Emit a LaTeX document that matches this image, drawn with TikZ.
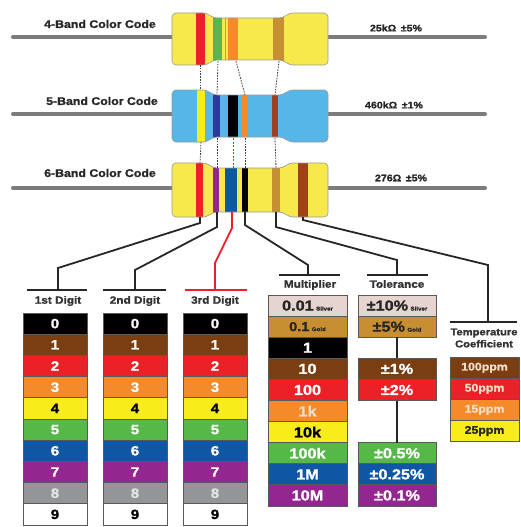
\documentclass[tikz,border=0pt]{standalone}
\usepackage{fontspec}
\setmainfont{Liberation Sans}
\newfontfamily\wide[FakeStretch=1.12, BoldFeatures={FakeBold=1.3}]{Liberation Sans}
\usetikzlibrary{calc}

\definecolor{rbrown}{HTML}{7A3E10}
\definecolor{rred}{HTML}{EC2027}
\definecolor{rorange}{HTML}{F58A2A}
\definecolor{ryellow}{HTML}{F8EC1A}
\definecolor{rgreen}{HTML}{56B848}
\definecolor{rblue}{HTML}{0F56A4}
\definecolor{rpurple}{HTML}{93278F}
\definecolor{rgray}{HTML}{939598}
\definecolor{rsilver}{HTML}{E6D4D1}
\definecolor{rgold}{HTML}{C88F32}
\definecolor{resyellow}{HTML}{F7E84B}
\definecolor{resblue}{HTML}{55B7E7}
\definecolor{banddarkblue}{HTML}{2A3A9E}
\definecolor{bandbrown}{HTML}{A3401C}
\definecolor{leadgray}{HTML}{7C7C7C}
\definecolor{paletext}{HTML}{F7DDC8}
\definecolor{eighttext}{HTML}{E2E2E2}

\newcommand\digitfont{\wide\bfseries\fontsize{13.5}{13.5}\selectfont}
\newcommand\bigfont{\wide\bfseries\fontsize{14.5}{14.5}\selectfont}
\newcommand\smallfont{\wide\bfseries\fontsize{5.5}{5.5}\selectfont}

% one resistor body: #1 top, #2 bottom, #3 body colour, #4 bands left/right/colour
\newcommand\drawres[4]{%
  \fill[#3, rounded corners=4pt] (172,#1) -- (207,#1) -- (213,#1+5) -- (283,#1+5) -- (289,#1) -- (328,#1) -- (328,#2) -- (289,#2) -- (283,#2-5) -- (213,#2-5) -- (207,#2) -- (172,#2) -- cycle;
  \begin{scope}
    \clip[rounded corners=4pt] (172,#1) -- (207,#1) -- (213,#1+5) -- (283,#1+5) -- (289,#1) -- (328,#1) -- (328,#2) -- (289,#2) -- (283,#2-5) -- (213,#2-5) -- (207,#2) -- (172,#2) -- cycle;
    \foreach \l/\r/\c in {#4} {\fill[\c] (\l,#1-2) rectangle (\r,#2+2);}
  \end{scope}
  \draw[body, rounded corners=4pt] (172,#1) -- (207,#1) -- (213,#1+5) -- (283,#1+5) -- (289,#1) -- (328,#1) -- (328,#2) -- (289,#2) -- (283,#2-5) -- (213,#2-5) -- (207,#2) -- (172,#2) -- cycle;
}

\tikzset{
  lead/.style={line width=4pt, draw=leadgray, line cap=round},
  body/.style={draw=black!40, line width=0.6pt},
  dots/.style={draw=black!75, line width=0.8pt, dash pattern=on 1.6pt off 1.2pt},
  reddots/.style={draw=rred, line width=1pt, dash pattern=on 2pt off 1.5pt},
  leader/.style={draw=black!85, line width=1.8pt},
  redleader/.style={draw=rred, line width=1.8pt},
  title/.style={font=\wide\bfseries\fontsize{11}{11}\selectfont, text=black!85},
  value/.style={font=\wide\bfseries\fontsize{9.5}{9.5}\selectfont, text=black!85},
  head/.style={font=\wide\bfseries\fontsize{10.5}{10.5}\selectfont, text=black!80, align=center},
  cell/.style={draw=black!65, line width=0.9pt, inner sep=0pt, outer sep=0pt,
    anchor=north west, minimum height=21.2pt},
}

\begin{document}
\begin{tikzpicture}[x=1pt,y=-1pt]
\useasboundingbox[fill=white] (0,0) rectangle (521,527);

% leads
\draw[lead] (13,37) -- (485,37);
\draw[lead] (13,114) -- (485,114);
\draw[lead] (13,188) -- (485,188);

% resistor bodies with their bands
\drawres{13}{65}{resyellow}{196/205/rred, 213/222/rgreen, 224.5/226/rorange, 228/238/rorange, 273/284/rgold}
\drawres{90}{142}{resblue}{197/205/ryellow, 213/220/banddarkblue, 228/238/black, 242/248/rorange, 272/278/bandbrown}
\drawres{163}{217}{resyellow}{196/203/rred, 213/219/rpurple, 225/237/rblue, 242/248/black, 272/280/rgold, 298/308/bandbrown}

% titles and values
\node[title] (t4band) at (100,24) {4-Band Color Code};
\node[title] (t5band) at (102,101) {5-Band Color Code};
\node[title] (t6band) at (100,173) {6-Band Color Code};
\node[value] (v4band) at (396,28) {25kΩ \,±5\%};
\node[value] (v5band) at (394,105) {460kΩ \,±1\%};
\node[value] (v6band) at (401,178) {276Ω \,±5\%};

% band end points
\coordinate (a1) at (200,65);  \coordinate (b1) at (218,61);
\coordinate (c1) at (236,61);  \coordinate (d1) at (279,61);
\coordinate (a2t) at (200,90); \coordinate (b2t) at (217,95);
\coordinate (c2t) at (245,95); \coordinate (d2t) at (275,95);
\coordinate (a2) at (201,142); \coordinate (b2) at (217,138);
\coordinate (x2) at (233,138); \coordinate (c2) at (245,138);
\coordinate (d2) at (275,138);
\coordinate (a3t) at (200,163); \coordinate (b3t) at (217,168);
\coordinate (x3t) at (233,168); \coordinate (c3t) at (245,168);
\coordinate (d3t) at (276,168);
\coordinate (a3) at (200,217); \coordinate (b3) at (217,212);
\coordinate (x3) at (232,212); \coordinate (c3) at (245,212);
\coordinate (d3) at (276,212); \coordinate (e3) at (303,217);

% dotted band links
\draw[dots] (a1) -- (a2t);
\draw[dots] (b1) -- (b2t);
\draw[dots] (c1) -- (c2t);
\draw[dots] (d1) -- (d2t);
\draw[dots] (a2) -- (a3t);
\draw[dots] (b2) -- (b3t);
\draw[reddots] (x2) -- (x3t);
\draw[dots] (c2) -- (c3t);
\draw[dots] (d2) -- (d3t);

% headings with their bars
\coordinate (t1) at (58,290);
\coordinate (t2) at (135,290);
\coordinate (t3) at (215,290);
\coordinate (t4) at (308,275);
\coordinate (t5) at (397,275);
\coordinate (t6) at (488,322);
\draw[leader] (27,290) -- (87,290);
\draw[leader] (103,290) -- (166,290);
\draw[redleader] (185,290) -- (247,290);
\draw[leader] (279,275) -- (340,275);
\draw[leader] (367,275) -- (428,275);
\draw[leader] (450,322) -- (517,322);
\node[head] (h1) at (58,301) {1st Digit};
\node[head] (h2) at (135,301) {2nd Digit};
\node[head] (h3) at (215,301) {3rd Digit};
\node[head] (h4) at (310,285) {Multiplier};
\node[head] (h5) at (397,284) {Tolerance};
\node[head, font=\wide\bfseries\fontsize{10}{12}\selectfont] (h6) at (484,338) {Temperature\\Coefficient};

% leader lines
\draw[leader] (a3) -- (200,223) -- (58,268) -- (t1);
\draw[leader] (b3) -- (217,227) -- (135,270) -- (t2);
\draw[redleader] (x3) -- (232,228) -- (215,263) -- (t3);
\draw[leader] (c3) -- (245,225) -- (308,265) -- (t4);
\draw[leader] (d3) -- (276,227) -- (397,260) -- (t5);
\draw[leader] (e3) -- (303,220) -- (488,265) -- (t6);

% digit tables
\foreach \i/\bg/\fg in {0/black/white,1/rbrown/white,2/rred/white,3/rorange/white,4/ryellow/black,5/rgreen/white,6/rblue/white,7/rpurple/white,8/rgray/eighttext,9/white/black}{
  \foreach \c/\x in {1/23,2/103,3/183}{
    \node[cell, fill=\bg, text=\fg, minimum width=64pt, font=\digitfont] (d\c-\i) at (\x,313+21.2*\i) {\i};
  }
}

% multiplier table
\tikzset{mcell/.style={cell, minimum width=79pt, minimum height=21.1pt, font=\bigfont}}
\node[mcell, fill=rsilver, text=black!85] (m0) at (268,295.0) {0.01\,{\smallfont Silver}};
\node[mcell, fill=rgold, text=black!85] (m1) at (268,316.1) {{\fontsize{13}{13}\selectfont 0.1}\,{\smallfont Gold}};
\node[mcell, fill=black, text=white] (m2) at (268,337.2) {1};
\node[mcell, fill=rbrown, text=white] (m3) at (268,358.3) {10};
\node[mcell, fill=rred, text=white] (m4) at (268,379.4) {100};
\node[mcell, fill=rorange, text=paletext] (m5) at (268,400.5) {1k};
\node[mcell, fill=ryellow, text=black] (m6) at (268,421.6) {10k};
\node[mcell, fill=rgreen, text=white] (m7) at (268,442.7) {100k};
\node[mcell, fill=rblue, text=white] (m8) at (268,463.8) {1M};
\node[mcell, fill=rpurple, text=white] (m9) at (268,484.9) {10M};

% tolerance table
\tikzset{tcell/.style={cell, minimum width=78pt, minimum height=21.1pt, font=\bigfont}}
\node[tcell, fill=rsilver, text=black!85] (o0) at (358,295.0) {±10\%\,{\smallfont Silver}};
\node[tcell, fill=rgold, text=black!85] (o1) at (358,316.1) {±5\%\,{\smallfont Gold}};
\node[tcell, fill=rbrown, text=white] (o3) at (358,358.3) {±1\%};
\node[tcell, fill=rred, text=white] (o4) at (358,379.4) {±2\%};
\node[tcell, fill=rgreen, text=white] (o7) at (358,442.7) {±0.5\%};
\node[tcell, fill=rblue, text=white] (o8) at (358,463.8) {±0.25\%};
\node[tcell, fill=rpurple, text=white] (o9) at (358,484.9) {±0.1\%};
\draw[leader] (o1.south) -- (o3.north);
\draw[leader] (o4.south) -- (o7.north);

% temperature coefficient table
\tikzset{ccell/.style={cell, minimum width=69pt, minimum height=21.1pt, font=\wide\bfseries\fontsize{11}{11}\selectfont}}
\node[ccell, fill=rbrown, text=paletext] (k0) at (450,357.2) {100ppm};
\node[ccell, fill=rred, text=paletext] (k1) at (450,378.3) {50ppm};
\node[ccell, fill=rorange, text=paletext] (k2) at (450,399.4) {15ppm};
\node[ccell, fill=ryellow, text=black!85] (k3) at (450,420.5) {25ppm};
\end{tikzpicture}
\end{document}
